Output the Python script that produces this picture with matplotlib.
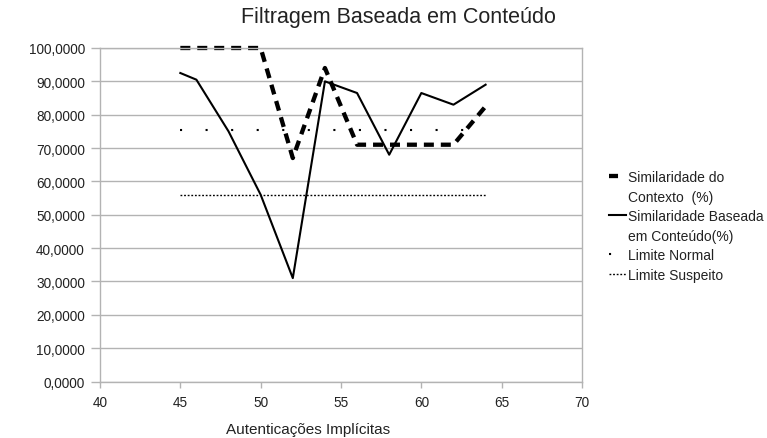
import matplotlib
matplotlib.use('Agg')
import matplotlib.pyplot as plt
from matplotlib.lines import Line2D
from matplotlib.ticker import FuncFormatter, MultipleLocator

plt.rcParams['font.family'] = ['Liberation Sans', 'DejaVu Sans']
plt.rcParams['lines.scale_dashes'] = False

# data
autenticacoes = [45, 46, 48, 50, 52, 54, 56, 58, 60, 62, 64]
sim_contexto = [100, 100, 100, 100, 67, 94, 71, 71, 71, 71, 82.5]
sim_conteudo = [92.5, 90.5, 75, 56, 31, 90, 86.5, 68, 86.5, 83, 89]
limite_normal = 75.5
limite_suspeito = 56
x_limites = [45, 64]

grid_gray = '#b3b3b3'
text_col = '#222222'

fig = plt.figure(figsize=(7.67, 4.39), dpi=100)
ax = fig.add_axes([100 / 767, 1 - 382.5 / 439, 482 / 767, 333.5 / 439])

ax.plot(autenticacoes, sim_contexto, color='black', lw=3.1, clip_on=False,
        dashes=(7.2, 5.0), solid_capstyle='butt', dash_capstyle='butt')
ax.plot(autenticacoes, sim_conteudo, color='black', lw=1.5)
ax.plot(x_limites, [limite_normal] * 2, color='black', lw=1.5,
        dashes=(1.5, 16.9), dash_capstyle='butt')
ax.plot(x_limites, [limite_suspeito] * 2, color='black', lw=1.0,
        dashes=(1.3, 1.3), dash_capstyle='butt')

ax.set_xlim(40, 70)
ax.set_ylim(0, 100)
ax.xaxis.set_major_locator(MultipleLocator(5))
ax.yaxis.set_major_locator(MultipleLocator(10))
ax.yaxis.set_major_formatter(FuncFormatter(lambda v, p: f'{v:.4f}'.replace('.', ',')))
ax.grid(axis='y', color=grid_gray, lw=1.0)
ax.set_axisbelow(True)
for s in ax.spines.values():
    s.set_color(grid_gray)
    s.set_linewidth(1.0)
ax.tick_params(axis='y', direction='out', length=6.5, width=1, color=grid_gray,
               pad=4.3, labelsize=9.8, labelcolor=text_col)
ax.tick_params(axis='x', direction='out', length=4.3, width=1, color=grid_gray,
               pad=5.5, labelsize=9.8, labelcolor=text_col)

fig.text(398 / 767, 1 - 18 / 439, 'Filtragem Baseada em Conteúdo', ha='center',
         va='center', fontsize=15.5, color=text_col)
fig.text(308 / 767, 1 - 430 / 439, 'Autenticações Implícitas', ha='center',
         va='center', fontsize=11, color=text_col)

# legend rows: continuation lines get an empty handle so the key sits on the first line
blank = Line2D([], [], color='none')
handles = [
    Line2D([], [], color='black', lw=3.1, dashes=(6.5, 50), dash_capstyle='butt'),
    blank,
    Line2D([], [], color='black', lw=1.5),
    blank,
    Line2D([], [], color='black', lw=1.5, dashes=(1.5, 50), dash_capstyle='butt'),
    Line2D([], [], color='black', lw=1.0, dashes=(1.3, 1.3), dash_capstyle='butt'),
]
labels = ['Similaridade do', 'Contexto  (%)', 'Similaridade Baseada',
          'em Conteúdo(%)', 'Limite Normal', 'Limite Suspeito']
leg = fig.legend(handles, labels, loc='upper left', bbox_to_anchor=(609 / 767, 1 - 171 / 439),
                 frameon=False, fontsize=10, handlelength=1.2, handletextpad=0.15,
                 labelspacing=0.4, borderaxespad=0, borderpad=0)
for t in leg.get_texts():
    t.set_color(text_col)

fig.savefig('out.png', dpi=100)
